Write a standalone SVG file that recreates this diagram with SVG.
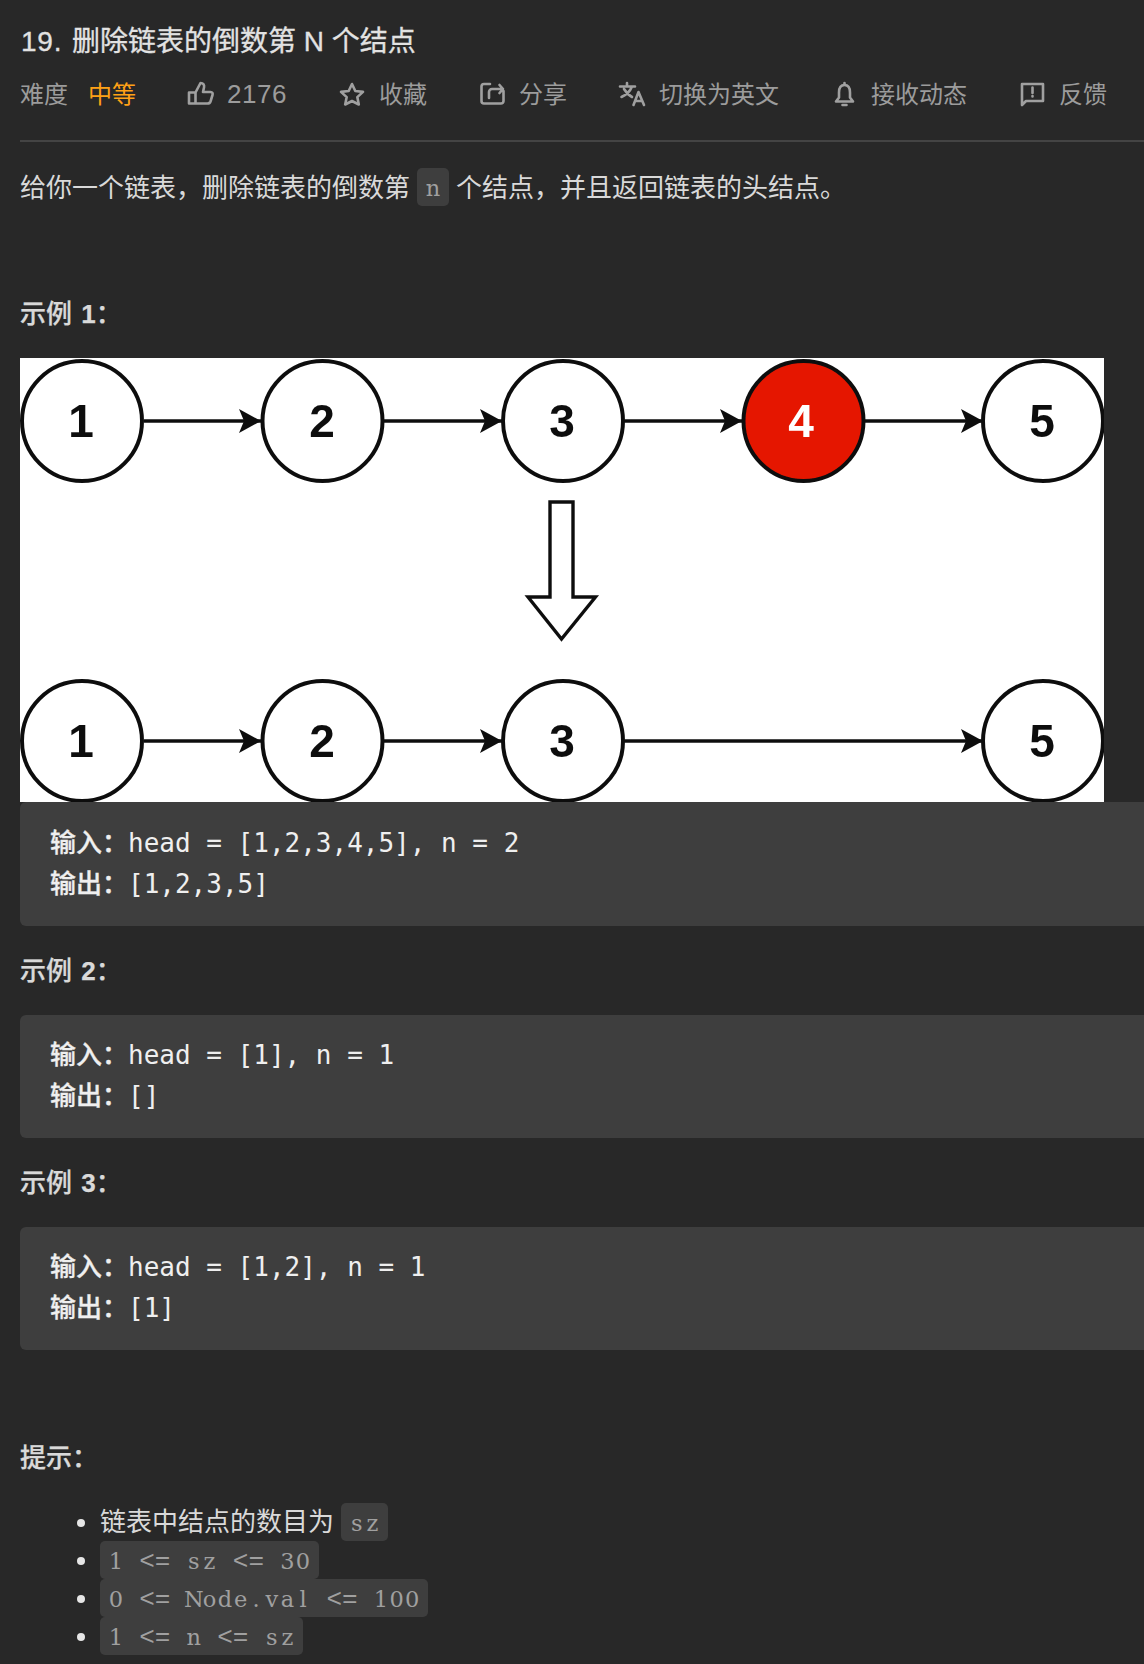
<svg xmlns="http://www.w3.org/2000/svg" width="1144" height="1664" viewBox="0 0 1144 1664">
<style>
text{font-family:"Liberation Sans","Noto Sans CJK SC",sans-serif;white-space:pre}
.title{font-size:28px;fill:#e2e2e2;stroke:#e2e2e2;stroke-width:.3}
.meta{font-size:24px;fill:#9c9c9c}
.num{font-size:26px;fill:#9c9c9c;letter-spacing:.5px}
.hard{font-size:24px;fill:#ffa116}
.body{font-size:26px;fill:#d9d9d9}
.h{font-size:26px;fill:#d9d9d9;font-weight:500;stroke:#d9d9d9;stroke-width:.25}
.b{font-weight:700}
.cl{font-size:26px;fill:#efefef;font-weight:500;stroke:#efefef;stroke-width:.3}
.cv{font-family:"DejaVu Sans Mono",monospace;font-size:26px;fill:#efefef}
.ic{font-family:"DejaVu Serif",serif;font-size:22.500px;fill:#a0a0a0;text-anchor:middle}
.ic .o{font-family:"Liberation Mono",monospace;font-size:26px}
.cbg{fill:#3e3e3e}
.icon{fill:none;stroke:#a0a0a0;stroke-width:2.6;stroke-linejoin:round;stroke-linecap:round}
.dot{fill:#e6e6e6}
.c{fill:#fff;stroke:#111;stroke-width:4}
.d{font-size:46px;font-weight:700;fill:#111;text-anchor:middle}
.e{stroke:#111;stroke-width:3.6;fill:none;marker-end:url(#a)}
</style>
<defs>
<marker id="a" markerUnits="userSpaceOnUse" markerWidth="24" markerHeight="26" refX="22" refY="13" orient="auto"><path d="M0 1L22 13L0 25L5 13Z" fill="#111"/></marker>
<filter id="soft" x="0" y="0" width="1" height="1"><feGaussianBlur stdDeviation="0.7"/></filter>
<clipPath id="pic"><rect x="20" y="358" width="1084" height="444"/></clipPath>
</defs>
<rect width="1144" height="1664" fill="#282828"/>
<text class="title" x="21" y="51" style="letter-spacing:.8px">19.</text>
<text class="title" x="72" y="51">删除链表的倒数第 N 个结点</text>
<text class="meta" x="20" y="103">难度</text>
<text class="hard" x="88" y="103">中等</text>
<path class="icon" d="M189 92.500h6.500V103.500h-6.500zM195.500 92.500l5-9.500c3 0 4 2 3.500 4.500l-1 4.500h7.500c2 0 2.500 1.500 2 3l-2 6.500c-.5 1.500-1.500 2-3 2h-12"/>
<text class="num" x="227" y="103">2176</text>
<path class="icon" d="M352 84l3.300 7 7.700.9-5.700 5.200 1.500 7.400L352 101l-6.800 3.500 1.500-7.400-5.700-5.200 7.700-.9z"/>
<text class="meta" x="379" y="103">收藏</text>
<path class="icon" d="M490 84H484a2.500 2.500 0 0 0-2.500 2.500V101a2.500 2.500 0 0 0 2.500 2.500H501a2.500 2.500 0 0 0 2.500-2.500V91M489 98V92a3 3 0 0 1 3-3H503M499.500 85l3.500 4-3.500 4"/>
<text class="meta" x="519" y="103">分享</text>
<path class="icon" d="M620 86.500h15M627 83v3.500M621.500 97c4.500-2 8.500-5.500 10.500-10.500M624 89c2 3.500 4.500 6 8 8M633.500 105l5-13 5.500 13M635.500 101h6.500"/>
<text class="meta" x="659" y="103">切换为英文</text>
<path class="icon" d="M844.500 85c-4.500 0-5.500 3.500-5.500 7.500v5l-3 4h17l-3-4v-5c0-4-1-7.500-5.500-7.500zM842.500 105h4M844.500 83v2"/>
<text class="meta" x="871" y="103">接收动态</text>
<path class="icon" d="M1022 84h21v17h-17l-4 4zM1032.500 87.500v5.500M1032.500 96v.5"/>
<text class="meta" x="1059" y="103">反馈</text>
<rect x="20" y="140" width="1124" height="2" fill="#444"/>
<text class="body" x="20" y="197">给你一个链表，删除链表的倒数第</text>
<rect class="cbg" x="417" y="168" width="32" height="38" rx="5"/>
<text class="ic" x="433" y="196">n</text>
<text class="body" x="456" y="197">个结点，并且返回链表的头结点。</text>
<text class="h" x="20" y="323">示例 <tspan class="b" dx="2">1</tspan>：</text>
<g id="figure" clip-path="url(#pic)" filter="url(#soft)">
<rect x="20" y="358" width="1084" height="444" fill="#fff"/>
<g id="connectors">
<path class="e" d="M144 421H261"/>
<path class="e" d="M383.500 421H502"/>
<path class="e" d="M624 421H742"/>
<path class="e" d="M864 421H983"/>
<path class="e" d="M144 741H261"/>
<path class="e" d="M383.500 741H502"/>
<path class="e" d="M624 741H983"/>
<path d="M550 502H573V597H595.500L561.500 639L528 597H550Z" fill="#fff" stroke="#111" stroke-width="3.400"/>
</g>
<g id="n1"><circle class="c" cx="82" cy="421" r="60"/><text class="d" x="81" y="437">1</text></g>
<g id="n2"><circle class="c" cx="322.500" cy="421" r="60"/><text class="d" x="322" y="437">2</text></g>
<g id="n3"><circle class="c" cx="563" cy="421" r="60"/><text class="d" x="562" y="437">3</text></g>
<g id="n4"><circle class="c" cx="803.500" cy="421" r="60" style="fill:#e51400"/><text class="d" x="801" y="437" style="fill:#fff">4</text></g>
<g id="n5"><circle class="c" cx="1043" cy="421" r="60"/><text class="d" x="1042" y="437">5</text></g>
<g id="m1"><circle class="c" cx="82" cy="741" r="60"/><text class="d" x="81" y="757">1</text></g>
<g id="m2"><circle class="c" cx="322.500" cy="741" r="60"/><text class="d" x="322" y="757">2</text></g>
<g id="m3"><circle class="c" cx="563" cy="741" r="60"/><text class="d" x="562" y="757">3</text></g>
<g id="m5"><circle class="c" cx="1043" cy="741" r="60"/><text class="d" x="1042" y="757">5</text></g>
</g>
<path class="cbg" d="M1144 802H26a6 6 0 0 0-6 6V920a6 6 0 0 0 6 6H1144Z"/>
<text class="cl" x="50" y="852">输入：</text><text class="cv" x="128" y="852">head = [1,2,3,4,5], n = 2</text>
<text class="cl" x="50" y="893">输出：</text><text class="cv" x="128" y="893">[1,2,3,5]</text>
<text class="h" x="20" y="980">示例 <tspan class="b" dx="2">2</tspan>：</text>
<path class="cbg" d="M1144 1015H26a6 6 0 0 0-6 6V1132a6 6 0 0 0 6 6H1144Z"/>
<text class="cl" x="50" y="1064">输入：</text><text class="cv" x="128" y="1064">head = [1], n = 1</text>
<text class="cl" x="50" y="1105">输出：</text><text class="cv" x="128" y="1105">[]</text>
<text class="h" x="20" y="1192">示例 <tspan class="b" dx="2">3</tspan>：</text>
<path class="cbg" d="M1144 1227H26a6 6 0 0 0-6 6V1344a6 6 0 0 0 6 6H1144Z"/>
<text class="cl" x="50" y="1276">输入：</text><text class="cv" x="128" y="1276">head = [1,2], n = 1</text>
<text class="cl" x="50" y="1317">输出：</text><text class="cv" x="128" y="1317">[1]</text>
<text class="h" x="20" y="1467">提示：</text>
<circle class="dot" cx="81" cy="1523" r="4"/>
<circle class="dot" cx="81" cy="1561" r="4"/>
<circle class="dot" cx="81" cy="1599" r="4"/>
<circle class="dot" cx="81" cy="1637" r="4"/>
<text class="body" x="100" y="1531">链表中结点的数目为</text>
<rect class="cbg" x="341" y="1503" width="47" height="38" rx="5"/>
<text class="ic" x="356.800 372.400" y="1531">sz</text>
<rect class="cbg" x="100" y="1541" width="219" height="38" rx="5"/>
<text class="ic" x="115.800 131.400 147 162.600 178.200 193.800 209.400 225 240.600 256.200 271.800 287.400 303" y="1569">1 <tspan class="o">&lt;=</tspan> sz <tspan class="o">&lt;=</tspan> 30</text>
<rect class="cbg" x="100" y="1579" width="328" height="38" rx="5"/>
<text class="ic" x="115.800 131.400 147 162.600 178.200 193.800 209.400 225 240.600 256.200 271.800 287.400 303 318.600 334.200 349.800 365.400 381 396.600 412.200" y="1607">0 <tspan class="o">&lt;=</tspan> Node.val <tspan class="o">&lt;=</tspan> 100</text>
<rect class="cbg" x="100" y="1617" width="203" height="38" rx="5"/>
<text class="ic" x="115.800 131.400 147 162.600 178.200 193.800 209.400 225 240.600 256.200 271.800 287.400" y="1645">1 <tspan class="o">&lt;=</tspan> n <tspan class="o">&lt;=</tspan> sz</text>
</svg>
